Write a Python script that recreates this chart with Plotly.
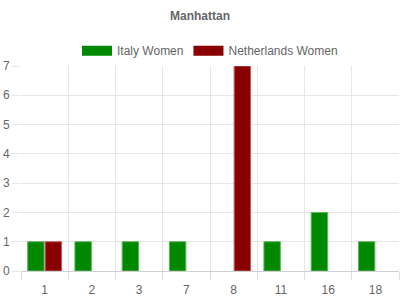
import plotly.graph_objects as go

categories = ["1", "2", "3", "7", "8", "11", "16", "18"]
italy_women = [1, 1, 1, 1, 0, 1, 2, 1]
netherlands_women = [1, 0, 0, 0, 7, 0, 0, 0]

series = [
    ("Italy Women", italy_women, "#008800", "#5cb85c"),
    ("Netherlands Women", netherlands_women, "#880000", "#c06060"),
]

fig = go.Figure()
for name, vals, fill, edge in series:
    fig.add_trace(go.Bar(
        x=categories, y=vals, name=name, legendgroup=name, showlegend=False,
        marker=dict(color=fill, line=dict(color=edge, width=[1 if v else 0 for v in vals])),
    ))
for name, vals, fill, edge in series:
    fig.add_trace(go.Scatter(
        x=[None], y=[None], mode="lines", name=name, legendgroup=name,
        line=dict(color=fill, width=10), hoverinfo="skip",
    ))

fig.update_layout(
    width=400, height=300,
    margin=dict(l=21, r=1, t=66, b=29),
    paper_bgcolor="white", plot_bgcolor="white",
    font=dict(family="Liberation Sans, Arial, sans-serif", size=12, color="#666666"),
    title=dict(text="<b>Manhattan</b>", x=0.5, xanchor="center", y=0.947, yanchor="middle",
               font=dict(size=12, color="#666666")),
    barmode="group", bargap=0.26, bargroupgap=0.06,
    legend=dict(orientation="h", x=0.5, xanchor="center", y=1.075, yanchor="middle",
                font=dict(size=12, color="#666666"), itemwidth=30),
    showlegend=True,
)
fig.update_xaxes(
    type="category", tickson="boundaries", showgrid=True, gridcolor="#e6e6e6",
    ticks="outside", ticklen=8, tickcolor="#e0e0e0", showline=True, linecolor="#d0d0d0",
    tickfont=dict(size=12, color="#666666"), ticklabelstandoff=8,
)
fig.update_yaxes(
    range=[0, 7], dtick=1, showgrid=True, gridcolor="#e6e6e6", zeroline=False,
    ticks="outside", ticklen=8, tickcolor="#e6e6e6",
    tickfont=dict(size=12, color="#666666"),
)

fig.write_html("out.html")
